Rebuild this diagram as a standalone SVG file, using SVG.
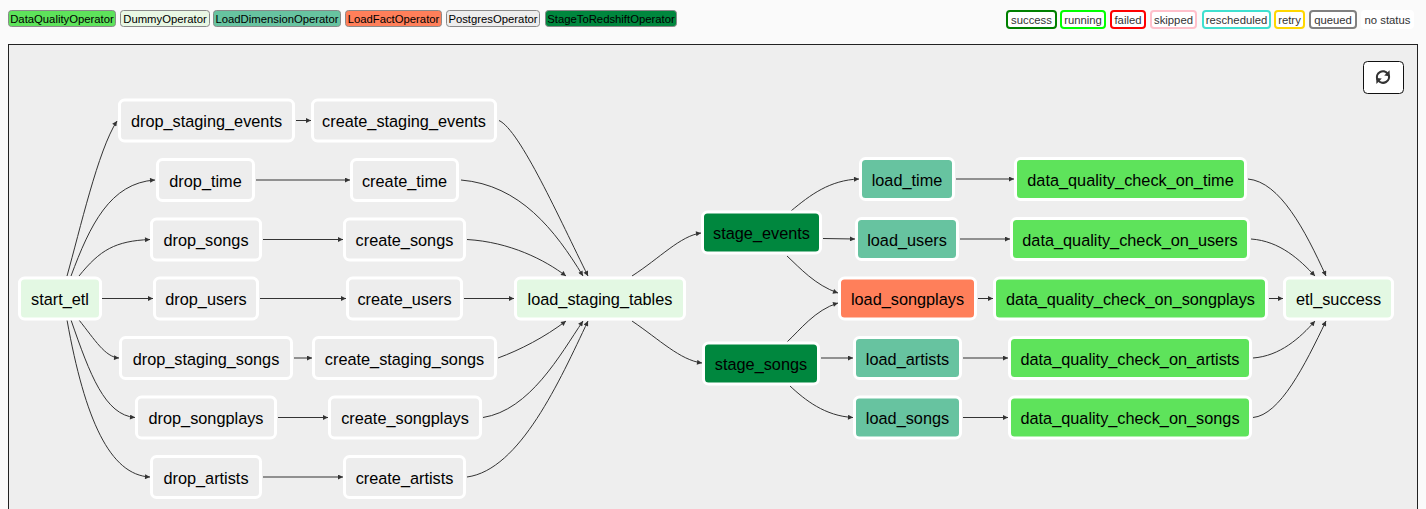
<svg xmlns="http://www.w3.org/2000/svg" width="1426" height="509" viewBox="0 0 1426 509">
<defs>
<marker id="arr" viewBox="0 0 10 10" refX="10" refY="5" markerWidth="6" markerHeight="5" markerUnits="userSpaceOnUse" orient="auto"><path d="M0,0 L10,5 L0,10 z" fill="#333"/></marker>
<style>
.lg{stroke:#8a8a8a;stroke-width:1}
.lt{font-family:"Liberation Sans",Arial,sans-serif;font-size:11.3px;fill:#000;text-anchor:middle}
.st{fill:#fff;stroke-width:2}
.stt{font-family:"Liberation Sans",Arial,sans-serif;font-size:11.3px;fill:#333;text-anchor:middle}
.n rect{stroke:#fff;stroke-width:3}
.n text{font-family:"Liberation Sans",Arial,sans-serif;font-size:16.3px;fill:#000;text-anchor:middle}
.pg rect{fill:#ededed}
.dm rect{fill:#e3f8e3}
.ld rect{fill:#67c3a0}
.lf rect{fill:#ff7f5a}
.dq rect{fill:#5ee35b}
.sr rect{fill:#00873e}
.e path{fill:none;stroke:#333;stroke-width:1;marker-end:url(#arr)}
</style>
</defs>
<rect x="0" y="0" width="1426" height="509" fill="#fafafa"/>
<g id="legend-operators">
<rect class="lg" x="8.5" y="10.5" width="107" height="16" rx="3" fill="#5ee35b"/><text class="lt" x="62" y="22.5">DataQualityOperator</text>
<rect class="lg" x="120.5" y="10.5" width="89" height="16" rx="3" fill="#e8f7e4"/><text class="lt" x="165" y="22.5">DummyOperator</text>
<rect class="lg" x="213.5" y="10.5" width="127" height="16" rx="3" fill="#67c3a0"/><text class="lt" x="277" y="22.5">LoadDimensionOperator</text>
<rect class="lg" x="345.5" y="10.5" width="96" height="16" rx="3" fill="#ff7f5a"/><text class="lt" x="393.5" y="22.5">LoadFactOperator</text>
<rect class="lg" x="446.5" y="10.5" width="93" height="16" rx="3" fill="#ededed"/><text class="lt" x="493" y="22.5">PostgresOperator</text>
<rect class="lg" x="545.5" y="10.5" width="131" height="16" rx="3" fill="#00873e"/><text class="lt" x="611" y="22.5">StageToRedshiftOperator</text>
</g>
<g id="legend-status">
<rect class="st" x="1007" y="11" width="49" height="17" rx="3" stroke="#008000"/><text class="stt" x="1031.5" y="23.5">success</text>
<rect class="st" x="1061" y="11" width="44" height="17" rx="3" stroke="#00ff00"/><text class="stt" x="1083" y="23.5">running</text>
<rect class="st" x="1111" y="11" width="34" height="17" rx="3" stroke="#ff0000"/><text class="stt" x="1128" y="23.5">failed</text>
<rect class="st" x="1151" y="11" width="45" height="17" rx="3" stroke="#ffc0cb"/><text class="stt" x="1173.5" y="23.5">skipped</text>
<rect class="st" x="1203" y="11" width="67" height="17" rx="3" stroke="#40e0d0"/><text class="stt" x="1236.5" y="23.5">rescheduled</text>
<rect class="st" x="1275" y="11" width="29" height="17" rx="3" stroke="#ffd700"/><text class="stt" x="1289.5" y="23.5">retry</text>
<rect class="st" x="1310" y="11" width="46" height="17" rx="3" stroke="#808080"/><text class="stt" x="1333" y="23.5">queued</text>
<rect class="st" x="1362" y="11" width="51" height="17" rx="3" stroke="#ffffff"/><text class="stt" x="1387.5" y="23.5">no status</text>
</g>
<rect id="panel" x="8.5" y="44.5" width="1409" height="480" fill="#eeeeee" stroke="#222" stroke-width="1"/>
<g id="refresh">
<rect x="1363.5" y="61.5" width="40" height="32" rx="4" fill="#fff" stroke="#111" stroke-width="1"/>
<path d="M1377.3,79.5 A6,6 0 0 1 1387.6,73.6" fill="none" stroke="#333" stroke-width="2.2"/>
<path d="M1389.6,70.2 L1389.8,76.2 L1384.2,75.6 z" fill="#333"/>
<path d="M1388.7,74.8 A6,6 0 0 1 1378.4,80.6" fill="none" stroke="#333" stroke-width="2.2"/>
<path d="M1376.4,84 L1376.2,78 L1381.8,78.6 z" fill="#333"/>
</g>
<g id="edges" class="e">
<path d="M67,276 C80,230 98,150 117,121"/>
<path d="M71,276 C90,225 110,183 155,180"/>
<path d="M79,276 C100,250 115,241 150,239.5"/>
<path d="M102,298.5 L153,298.5"/>
<path d="M79,320 C95,340 105,357 119,358"/>
<path d="M71,320 C90,375 105,415 135,417.5"/>
<path d="M67,320 C85,420 110,475 150,477"/>
<path d="M296,120.5 L311,120.5"/>
<path d="M256,180 L350,180"/>
<path d="M263,239.5 L343,239.5"/>
<path d="M260,298.5 L346,298.5"/>
<path d="M294,358 L312,358"/>
<path d="M278,417.5 L328,417.5"/>
<path d="M263,477 L343,477"/>
<path d="M499,120.5 C520,130 560,220 588,276"/>
<path d="M461,180 C520,185 555,230 583,276"/>
<path d="M467,239.5 C510,242 545,260 566,276"/>
<path d="M464,298.5 L514,298.5"/>
<path d="M498,358 C520,350 545,337 566,321"/>
<path d="M483,417.5 C530,410 560,355 583,321"/>
<path d="M467,477 C520,470 560,380 588,321"/>
<path d="M632,276 C660,258 680,236 701,233"/>
<path d="M632,321 C660,340 680,360 702,363"/>
<path d="M791,211 C810,195 830,180 859,179"/>
<path d="M823,238.5 L855,239"/>
<path d="M787,256 C800,268 815,285 838,293"/>
<path d="M787,342 C800,330 815,310 838,303"/>
<path d="M821,358 L853,358"/>
<path d="M790,386 C805,400 825,416 853,417.5"/>
<path d="M956,179 L1014,179"/>
<path d="M960,239 L1010,239"/>
<path d="M978,298.5 L993,298.5"/>
<path d="M963,358 L1008,358"/>
<path d="M963,417.5 L1008,417.5"/>
<path d="M1248,179 C1280,182 1305,230 1326,276"/>
<path d="M1251,239 C1280,241 1300,260 1315,276"/>
<path d="M1269,298.5 L1283,298.5"/>
<path d="M1253,358 C1280,356 1300,338 1315,321"/>
<path d="M1253,417.5 C1280,415 1305,365 1326,321"/>
</g>
<g id="start_etl" class="n dm"><rect x="19.5" y="278" width="81" height="41" rx="5"/><text x="60" y="305">start_etl</text></g>
<g id="drop_staging_events" class="n pg"><rect x="119.5" y="100" width="174" height="41" rx="5"/><text x="206.5" y="127">drop_staging_events</text></g>
<g id="create_staging_events" class="n pg"><rect x="312.5" y="100" width="183" height="41" rx="5"/><text x="404" y="127">create_staging_events</text></g>
<g id="drop_time" class="n pg"><rect x="157.5" y="159.5" width="96" height="41" rx="5"/><text x="205.5" y="186.5">drop_time</text></g>
<g id="create_time" class="n pg"><rect x="351.5" y="159.5" width="106" height="41" rx="5"/><text x="404.5" y="186.5">create_time</text></g>
<g id="drop_songs" class="n pg"><rect x="151.5" y="219" width="109" height="41" rx="5"/><text x="206" y="246">drop_songs</text></g>
<g id="create_songs" class="n pg"><rect x="344.5" y="219" width="120" height="41" rx="5"/><text x="404.5" y="246">create_songs</text></g>
<g id="drop_users" class="n pg"><rect x="154.5" y="278" width="103" height="41" rx="5"/><text x="206" y="305">drop_users</text></g>
<g id="create_users" class="n pg"><rect x="347.5" y="278" width="114" height="41" rx="5"/><text x="404.5" y="305">create_users</text></g>
<g id="drop_staging_songs" class="n pg"><rect x="120.5" y="337.5" width="171" height="41" rx="5"/><text x="206" y="364.5">drop_staging_songs</text></g>
<g id="create_staging_songs" class="n pg"><rect x="313.5" y="337.5" width="182" height="41" rx="5"/><text x="404.5" y="364.5">create_staging_songs</text></g>
<g id="drop_songplays" class="n pg"><rect x="136.5" y="397" width="139" height="41" rx="5"/><text x="206" y="424">drop_songplays</text></g>
<g id="create_songplays" class="n pg"><rect x="329.5" y="397" width="151" height="41" rx="5"/><text x="405" y="424">create_songplays</text></g>
<g id="drop_artists" class="n pg"><rect x="151.5" y="456.5" width="109" height="41" rx="5"/><text x="206" y="483.5">drop_artists</text></g>
<g id="create_artists" class="n pg"><rect x="344.5" y="456.5" width="120" height="41" rx="5"/><text x="404.5" y="483.5">create_artists</text></g>
<g id="load_staging_tables" class="n dm"><rect x="515.5" y="278" width="169" height="41" rx="5"/><text x="600" y="305">load_staging_tables</text></g>
<g id="stage_events" class="n sr"><rect x="702.5" y="212" width="118" height="41" rx="5"/><text x="761.5" y="239">stage_events</text></g>
<g id="stage_songs" class="n sr"><rect x="703.5" y="343" width="115" height="41" rx="5"/><text x="761" y="370">stage_songs</text></g>
<g id="load_time" class="n ld"><rect x="860.5" y="158.5" width="93" height="41" rx="5"/><text x="907" y="185.5">load_time</text></g>
<g id="load_users" class="n ld"><rect x="856.5" y="218.5" width="101" height="41" rx="5"/><text x="907" y="245.5">load_users</text></g>
<g id="load_songplays" class="n lf"><rect x="839.5" y="278" width="136" height="41" rx="5"/><text x="907.5" y="305">load_songplays</text></g>
<g id="load_artists" class="n ld"><rect x="854.5" y="337.5" width="106" height="41" rx="5"/><text x="907.5" y="364.5">load_artists</text></g>
<g id="load_songs" class="n ld"><rect x="854.5" y="397" width="106" height="41" rx="5"/><text x="907.5" y="424">load_songs</text></g>
<g id="data_quality_check_on_time" class="n dq"><rect x="1015.5" y="158.5" width="230" height="41" rx="5"/><text x="1130.5" y="185.5">data_quality_check_on_time</text></g>
<g id="data_quality_check_on_users" class="n dq"><rect x="1011.5" y="218.5" width="237" height="41" rx="5"/><text x="1130" y="245.5">data_quality_check_on_users</text></g>
<g id="data_quality_check_on_songplays" class="n dq"><rect x="994.5" y="278" width="272" height="41" rx="5"/><text x="1130.5" y="305">data_quality_check_on_songplays</text></g>
<g id="data_quality_check_on_artists" class="n dq"><rect x="1009.5" y="337.5" width="241" height="41" rx="5"/><text x="1130" y="364.5">data_quality_check_on_artists</text></g>
<g id="data_quality_check_on_songs" class="n dq"><rect x="1009.5" y="397" width="241" height="41" rx="5"/><text x="1130" y="424">data_quality_check_on_songs</text></g>
<g id="etl_success" class="n dm"><rect x="1284.5" y="278" width="108" height="41" rx="5"/><text x="1338.5" y="305">etl_success</text></g>
</svg>
